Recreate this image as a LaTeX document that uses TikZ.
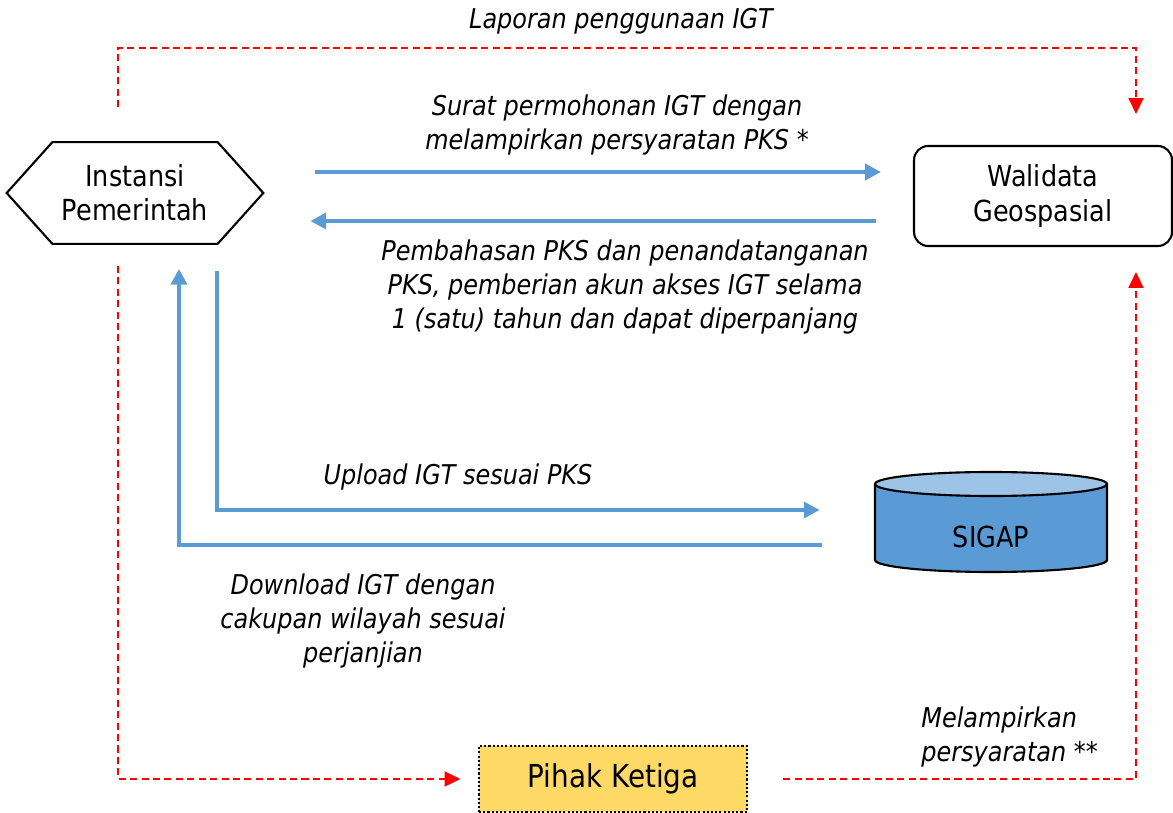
\documentclass[tikz,border=0pt]{standalone}
\usepackage{fontspec}
\setmainfont{DejaVu Sans}[FakeStretch=0.88]
\usetikzlibrary{arrows.meta,calc,positioning}
\definecolor{flowblue}{HTML}{5B9BD5}
\definecolor{dbtop}{HTML}{9DC3E6}
\definecolor{pihakfill}{HTML}{FFD966}
\tikzset{
	flow/.style={draw=flowblue, line width=2.2pt, -{Triangle[length=9pt,width=9pt]}},
	req/.style={draw=red, line width=1.1pt, dash pattern=on 4pt off 2.5pt, -{Triangle[length=9pt,width=8.5pt]}},
	note/.style={font=\fontsize{15.5}{19.4}\selectfont\itshape, align=center, inner sep=0pt},
	box/.style={draw=black, line width=1.2pt, align=center, inner sep=0pt}
}

\begin{document}
\begin{tikzpicture}[x=0.02cm, y=-0.02cm, font=\fontsize{16.5}{19.4}\selectfont]
		\useasboundingbox (0,0) rectangle (1173,813);
		% actors
		\node[align=center, inner sep=0pt, minimum width=5.12cm, minimum height=2.02cm] (inst) at (135,193) {Instansi\\Pemerintah};
		\draw[line width=1.2pt] (inst.west) -- ([xshift=26]inst.north west) -- ([xshift=-26]inst.north east)
			-- (inst.east) -- ([xshift=-26]inst.south east) -- ([xshift=26]inst.south west) -- cycle;
		\node[box, rounded corners=8pt, minimum width=5.16cm, minimum height=2cm] (wali) at (1043,196) {Walidata\\Geospasial};
		\node[box, fill=pihakfill, dash pattern=on 1.2pt off 1.2pt, minimum width=5.36cm, minimum height=1.32cm,
			font=\fontsize{18}{20}\selectfont] (pihak) at (613,779) {Pihak Ketiga};
		% database
		\node[inner sep=0pt, minimum width=4.64cm, minimum height=2cm] (sigap) at (991,522) {};
		\fill[flowblue] (875,484) -- (875,560) arc[start angle=180, end angle=360, x radius=116, y radius=-12] -- (1107,484) -- cycle;
		\draw[line width=1.2pt] (875,484) -- (875,560) arc[start angle=180, end angle=360, x radius=116, y radius=-12] -- (1107,484);
		\draw[line width=1.2pt, fill=dbtop] (991,484) ellipse[x radius=116, y radius=12];
		\node at (991,537) {SIGAP};

		% blue flows
		\draw[flow] ([shift={(52,-21)}]inst.east) -- ([shift={(-32,-24)}]wali.west);
		\draw[flow] ([shift={(-37,25)}]wali.west) -- ([shift={(47,28)}]inst.east);
		\draw[flow] ([shift={(82,27)}]inst.south) |- ([shift={(-55,-12)}]sigap.west);
		\draw[flow] ([shift={(-53,23)}]sigap.west) -| ([shift={(44,25)}]inst.south);

		% red flows
		\coordinate (toprow) at (620,48);
		\draw[req] ([shift={(-17,-35)}]inst.north) |- (toprow) -| ([shift={(93,-31)}]wali.north);
		\draw[req, shorten >=10] ([shift={(-17,22)}]inst.south) |- (pihak.west);
		\draw[req, shorten <=20] (pihak.east) -| ([shift={(93,25)}]wali.south);

		% labels
		\node[note] (lapor) at (621,21) {Laporan penggunaan IGT};
		\node[note] (surat) at (617,125) {Surat permohonan IGT dengan\\melampirkan persyaratan PKS *};
		\node[note] (bahas) at (625,287) {Pembahasan PKS dan penandatanganan\\PKS, pemberian akun akses IGT selama\\1 (satu) tahun dan dapat diperpanjang};
		\node[note] (upload) at (458,477) {Upload IGT sesuai PKS};
		\node[note] (unduh) at (363,621) {Download IGT dengan\\cakupan wilayah sesuai\\perjanjian};
		\node[note, align=left, anchor=west] (lampir) at (921,737) {Melampirkan\\persyaratan **};
	\end{tikzpicture}
\end{document}
